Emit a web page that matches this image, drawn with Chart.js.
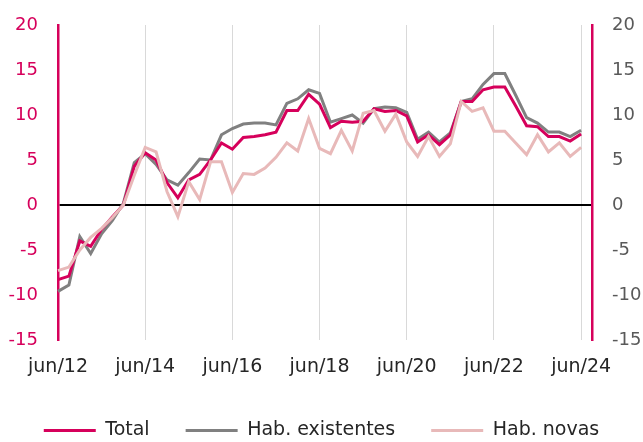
<!DOCTYPE html>
<html>
<head>
<meta charset="utf-8">
<script src="https://cdn.jsdelivr.net/npm/chart.js@4.4.1/dist/chart.umd.min.js"></script>
<style>
  html, body { margin: 0; padding: 0; background: #fff; }
  #wrap { width: 643px; height: 442px; }
</style>
</head>
<body>
<div id="wrap"><canvas id="precosChart"></canvas></div>
<script>
/* ---------- DATA ---------- */
const quarters = [
    "jun/12", "set/12", "dez/12",
    "mar/13", "jun/13", "set/13", "dez/13",
    "mar/14", "jun/14", "set/14", "dez/14",
    "mar/15", "jun/15", "set/15", "dez/15",
    "mar/16", "jun/16", "set/16", "dez/16",
    "mar/17", "jun/17", "set/17", "dez/17",
    "mar/18", "jun/18", "set/18", "dez/18",
    "mar/19", "jun/19", "set/19", "dez/19",
    "mar/20", "jun/20", "set/20", "dez/20",
    "mar/21", "jun/21", "set/21", "dez/21",
    "mar/22", "jun/22", "set/22", "dez/22",
    "mar/23", "jun/23", "set/23", "dez/23",
    "mar/24", "jun/24", "set/24"
];

const total = [
    -8.3, -7.9, -4.0, -4.6, -2.7, -1.3, 0.0, 4.3,
    5.8, 5.0, 2.5, 0.8, 2.8, 3.4, 5.0, 6.9,
    6.2, 7.5, 7.6, 7.8, 8.1, 10.5, 10.5, 12.3,
    11.2, 8.6, 9.3, 9.2, 9.3, 10.7, 10.4, 10.5,
    9.9, 7.0, 7.8, 6.7, 7.8, 11.5, 11.5, 12.8,
    13.1, 13.1, 11.0, 8.8, 8.7, 7.6, 7.6, 7.1,
    7.9
];

const existentes = [
    -9.6, -8.9, -3.5, -5.4, -3.2, -1.7, 0.2, 4.7,
    5.7, 4.5, 2.8, 2.2, 3.6, 5.1, 5.0, 7.8,
    8.5, 9.0, 9.1, 9.1, 8.9, 11.3, 11.8, 12.8,
    12.4, 9.2, 9.6, 10.0, 9.1, 10.7, 10.9, 10.8,
    10.3, 7.3, 8.1, 7.0, 8.0, 11.5, 11.8, 13.4,
    14.6, 14.6, 12.2, 9.7, 9.1, 8.1, 8.1, 7.6,
    8.3
];

const novas = [
    -7.3, -6.9, -5.0, -3.6, -2.6, -1.4, 0.0, 3.3,
    6.4, 5.9, 1.5, -1.3, 2.6, 0.6, 4.8, 4.8,
    1.4, 3.5, 3.4, 4.1, 5.3, 6.9, 6.0, 9.6,
    6.3, 5.7, 8.3, 6.0, 10.2, 10.5, 8.2, 10.1,
    7.0, 5.4, 7.6, 5.4, 6.8, 11.5, 10.4, 10.8,
    8.2, 8.2, 6.9, 5.6, 7.8, 5.9, 6.9, 5.4,
    6.4
];

const yMin = -15;
const yMax = 20;
const yStep = 5;
const labelEvery = 8;

/* ---------- THEME ---------- */
const PINK = "#d6005b";
const GREY = "#808080";
const ROSE = "#e8b9b9";
const FONT = "DejaVu Sans";

// fixed axis boxes so the plot area lands where the original sits
function fixBox(size) {
    return (scale) => {
        if (scale.isHorizontal()) scale.height = size;
        else scale.width = size;
        scale.paddingTop = 0;
        scale.paddingBottom = 0;
        scale.paddingLeft = 0;
        scale.paddingRight = 0;
    };
}

/* ---------- CREATE CHART ---------- */
const ctx = document.getElementById("precosChart").getContext("2d");

new Chart(ctx, {
    type: "line",
    data: {
        labels: quarters,
        datasets: [
            { label: "Total", data: total, borderColor: PINK, borderWidth: 3, order: 1 },
            { label: "Hab. existentes", data: existentes, borderColor: GREY, borderWidth: 3, order: 2 },
            { label: "Hab. novas", data: novas, borderColor: ROSE, borderWidth: 3, order: 0 }
        ]
    },
    options: {
        responsive: true,
        maintainAspectRatio: false,
        animation: false,
        layout: { padding: { top: 25, left: 0, right: 0, bottom: -8 } },
        elements: {
            line: { tension: 0, fill: false },
            point: { radius: 0 }
        },
        plugins: {
            tooltip: { enabled: false },
            legend: {
                position: "bottom",
                labels: {
                    usePointStyle: true,
                    pointStyle: "line",
                    pointStyleWidth: 52,
                    padding: 36,
                    color: "#262626",
                    font: { family: FONT, size: 19 },
                    sort: (a, b) => a.datasetIndex - b.datasetIndex
                }
            }
        },
        scales: {
            x: {
                type: "category",
                offset: false,
                afterFit: fixBox(45),
                border: { display: false },
                grid: {
                    drawTicks: false,
                    lineWidth: 1,
                    color: (c) => (c.index % labelEvery === 0 && c.index > 0 && c.index < quarters.length - 1)
                        ? "#d9d9d9" : "rgba(0,0,0,0)"
                },
                ticks: {
                    autoSkip: false,
                    maxRotation: 0,
                    padding: 16,
                    color: "#262626",
                    font: { family: FONT, size: 19 },
                    callback: (v, i) => (i % labelEvery === 0 ? quarters[i] : "")
                }
            },
            y: {
                position: "left",
                min: yMin,
                max: yMax,
                afterFit: fixBox(58),
                border: { display: true, color: PINK, width: 2.5 },
                grid: {
                    drawTicks: false,
                    lineWidth: 2,
                    color: (c) => (c.tick && c.tick.value === 0 ? "#000" : "rgba(0,0,0,0)")
                },
                ticks: {
                    stepSize: yStep,
                    padding: 20,
                    color: PINK,
                    font: { family: FONT, size: 18 }
                }
            },
            y2: {
                position: "right",
                min: yMin,
                max: yMax,
                afterFit: fixBox(51),
                border: { display: true, color: PINK, width: 2.5 },
                grid: { display: false, drawTicks: false },
                ticks: {
                    stepSize: yStep,
                    padding: 20,
                    color: "#595959",
                    font: { family: FONT, size: 18 }
                }
            }
        }
    }
});
</script>
</body>
</html>
